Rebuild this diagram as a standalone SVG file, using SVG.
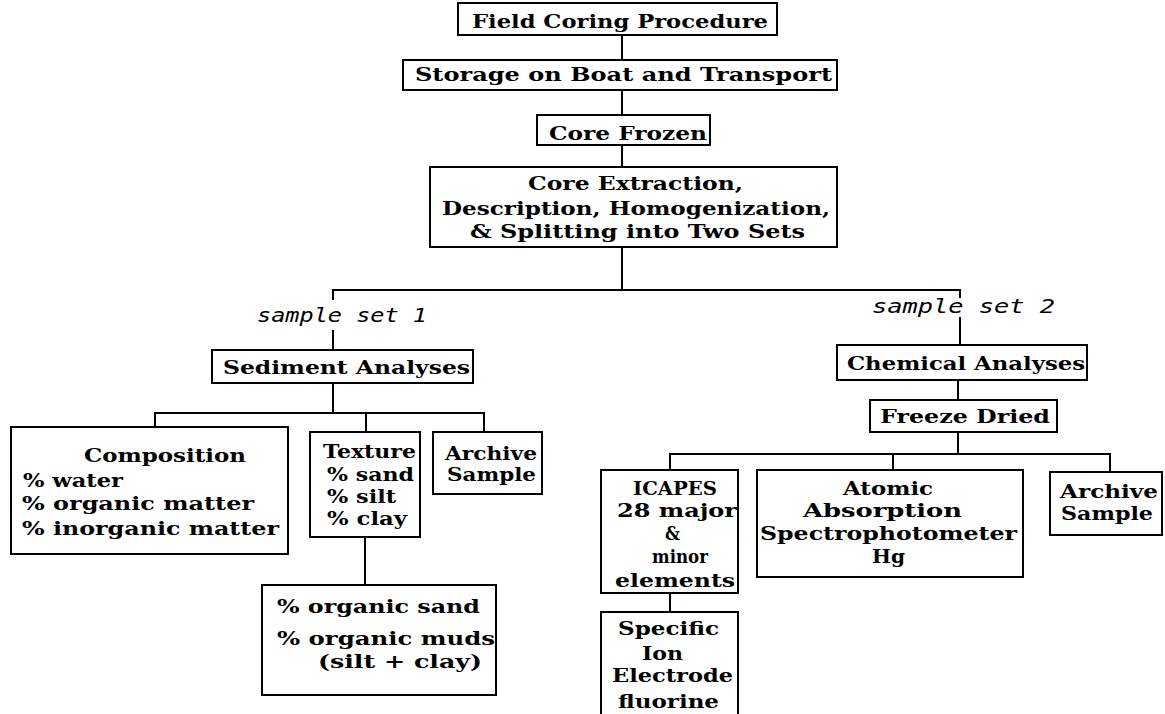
<svg xmlns="http://www.w3.org/2000/svg" width="1165" height="714" viewBox="0 0 1165 714">
<style>
.box{fill:#fff;stroke:#000;stroke-width:2}
.t{font-family:"DejaVu Serif","Liberation Serif",serif;font-weight:bold;font-size:19px;fill:#000}
.i{font-family:"DejaVu Sans Mono","Liberation Mono",monospace;font-style:italic;font-size:19px;fill:#000}
.c{fill:none;stroke:#000;stroke-width:2}
</style>
<rect width="1165" height="714" fill="#fff"/>
<g id="connectors" class="c">
<path d="M622,35V60M622,90V115M622,145V167M622,247V290"/>
<path d="M333,300V290H960V298"/>
<path d="M333,330V350M960,317V345"/>
<path d="M333,383V413M155,427V413H484V432M366,413V432M365,537V585"/>
<path d="M958,380V400M958,432V454M670,470V454H1110V472M893,454V470M670,593V612"/>
</g>
<g id="field"><rect class="box" x="458" y="3" width="319" height="32"/><text class="t" x="472" y="28" textLength="296" lengthAdjust="spacingAndGlyphs">Field Coring Procedure</text></g>
<g id="storage"><rect class="box" x="403" y="60" width="434" height="30"/><text class="t" x="415" y="81" textLength="417" lengthAdjust="spacingAndGlyphs">Storage on Boat and Transport</text></g>
<g id="frozen"><rect class="box" x="537" y="115" width="173" height="30"/><text class="t" x="549" y="140" textLength="158" lengthAdjust="spacingAndGlyphs">Core Frozen</text></g>
<g id="extraction"><rect class="box" x="430" y="167" width="407" height="80"/>
<text class="t" x="528" y="190" textLength="215" lengthAdjust="spacingAndGlyphs">Core Extraction,</text>
<text class="t" x="442" y="215" textLength="388" lengthAdjust="spacingAndGlyphs">Description, Homogenization,</text>
<text class="t" x="470" y="238" textLength="335" lengthAdjust="spacingAndGlyphs">&amp; Splitting into Two Sets</text></g>
<g id="set1"><text class="i" x="257" y="322" textLength="170" lengthAdjust="spacingAndGlyphs">sample set 1</text></g>
<g id="set2"><text class="i" x="872" y="313" textLength="183" lengthAdjust="spacingAndGlyphs">sample set 2</text></g>
<g id="sediment"><rect class="box" x="212" y="350" width="261" height="33"/><text class="t" x="223" y="374" textLength="247" lengthAdjust="spacingAndGlyphs">Sediment Analyses</text></g>
<g id="chemical"><rect class="box" x="837" y="345" width="250" height="35"/><text class="t" x="847" y="370" textLength="238" lengthAdjust="spacingAndGlyphs">Chemical Analyses</text></g>
<g id="freeze"><rect class="box" x="870" y="400" width="187" height="32"/><text class="t" x="880" y="423" textLength="170" lengthAdjust="spacingAndGlyphs">Freeze Dried</text></g>
<g id="composition"><rect class="box" x="11" y="427" width="277" height="127"/>
<text class="t" x="84" y="462" textLength="162" lengthAdjust="spacingAndGlyphs">Composition</text>
<text class="t" x="23" y="487" textLength="100" lengthAdjust="spacingAndGlyphs">% water</text>
<text class="t" x="22" y="510" textLength="232" lengthAdjust="spacingAndGlyphs">% organic matter</text>
<text class="t" x="22" y="535" textLength="257" lengthAdjust="spacingAndGlyphs">% inorganic matter</text></g>
<g id="texture"><rect class="box" x="310" y="432" width="110" height="105"/>
<text class="t" x="323" y="458" textLength="93" lengthAdjust="spacingAndGlyphs">Texture</text>
<text class="t" x="327" y="481" textLength="87" lengthAdjust="spacingAndGlyphs">% sand</text>
<text class="t" x="327" y="503" textLength="69" lengthAdjust="spacingAndGlyphs">% silt</text>
<text class="t" x="327" y="525" textLength="80" lengthAdjust="spacingAndGlyphs">% clay</text></g>
<g id="archive1"><rect class="box" x="433" y="432" width="109" height="62"/>
<text class="t" x="445" y="460" textLength="92" lengthAdjust="spacingAndGlyphs">Archive</text>
<text class="t" x="447" y="481" textLength="89" lengthAdjust="spacingAndGlyphs">Sample</text></g>
<g id="organic"><rect class="box" x="262" y="585" width="234" height="110"/>
<text class="t" x="277" y="613" textLength="203" lengthAdjust="spacingAndGlyphs">% organic sand</text>
<text class="t" x="277" y="645" textLength="218" lengthAdjust="spacingAndGlyphs">% organic muds</text>
<text class="t" x="318" y="668" textLength="164" lengthAdjust="spacingAndGlyphs">(silt + clay)</text></g>
<g id="icapes"><rect class="box" x="601" y="470" width="137" height="123"/>
<text class="t" x="633" y="495" textLength="84" lengthAdjust="spacingAndGlyphs">ICAPES</text>
<text class="t" x="617" y="517" textLength="120" lengthAdjust="spacingAndGlyphs">28 major</text>
<text class="t" x="665" y="540" textLength="15" lengthAdjust="spacingAndGlyphs">&amp;</text>
<text class="t" x="652" y="563" textLength="56" lengthAdjust="spacingAndGlyphs">minor</text>
<text class="t" x="615" y="587" textLength="120" lengthAdjust="spacingAndGlyphs">elements</text></g>
<g id="aas"><rect class="box" x="757" y="470" width="266" height="107"/>
<text class="t" x="843" y="495" textLength="90" lengthAdjust="spacingAndGlyphs">Atomic</text>
<text class="t" x="803" y="517" textLength="159" lengthAdjust="spacingAndGlyphs">Absorption</text>
<text class="t" x="760" y="540" textLength="257" lengthAdjust="spacingAndGlyphs">Spectrophotometer</text>
<text class="t" x="872" y="563" textLength="33" lengthAdjust="spacingAndGlyphs">Hg</text></g>
<g id="archive2"><rect class="box" x="1050" y="472" width="112" height="63"/>
<text class="t" x="1060" y="498" textLength="98" lengthAdjust="spacingAndGlyphs">Archive</text>
<text class="t" x="1061" y="520" textLength="92" lengthAdjust="spacingAndGlyphs">Sample</text></g>
<g id="specific"><rect class="box" x="601" y="612" width="137" height="120"/>
<text class="t" x="618" y="635" textLength="101" lengthAdjust="spacingAndGlyphs">Specific</text>
<text class="t" x="642" y="660" textLength="41" lengthAdjust="spacingAndGlyphs">Ion</text>
<text class="t" x="612" y="682" textLength="121" lengthAdjust="spacingAndGlyphs">Electrode</text>
<text class="t" x="618" y="708" textLength="101" lengthAdjust="spacingAndGlyphs">fluorine</text></g>
</svg>
